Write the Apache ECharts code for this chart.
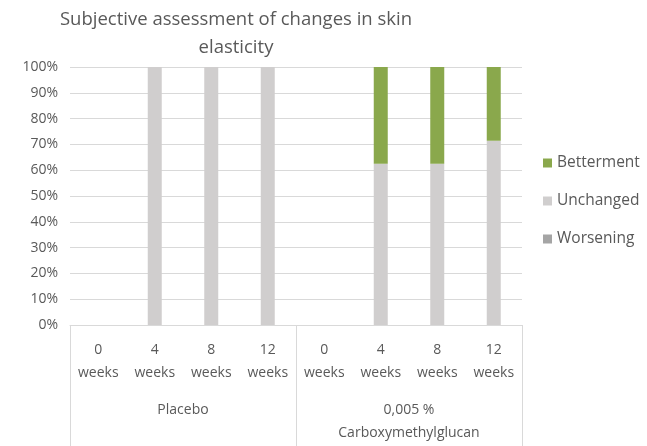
<!DOCTYPE html>
<html lang="en">
<head>
    <meta charset="utf-8">
    <title>Subjective assessment of changes in skin elasticity</title>
    <script src="https://cdn.jsdelivr.net/npm/echarts@6/dist/echarts.min.js"></script>
    <style>
        html, body { margin: 0; padding: 0; background: #fff; }
        #main { width: 647px; height: 446px; }
    </style>
</head>
<body>
    <div id="main"></div>
    <script type="text/javascript">
        // data
        var weeks = ['0\nweeks', '4\nweeks', '8\nweeks', '12\nweeks', '0\nweeks', '4\nweeks', '8\nweeks', '12\nweeks'];
        var groups = ['Placebo', '0,005 %\nCarboxymethylglucan'];
        var worsening = [0, 0, 0, 0, 0, 0, 0, 0];
        var unchanged = [0, 1, 1, 1, 0, 0.625, 0.625, 0.714];
        var betterment = [0, 0, 0, 0, 0, 0.375, 0.375, 0.286];

        var textColor = '#595959';
        var fontName = 'Open Sans';

        var myChart = echarts.init(document.getElementById('main'));
        var option = {
            animation: false,
            title: {
                text: 'Subjective assessment of changes in skin\nelasticity',
                left: 231,
                top: 1,
                textAlign: 'center',
                textStyle: {
                    color: textColor,
                    fontFamily: fontName,
                    fontWeight: 'normal',
                    fontSize: 18.5,
                    lineHeight: 28
                }
            },
            legend: {
                orient: 'vertical',
                left: 538,
                top: 150,
                itemWidth: 9,
                itemHeight: 9,
                itemGap: 22,
                icon: 'rect',
                data: ['Betterment', 'Unchanged', 'Worsening'],
                textStyle: { color: textColor, fontFamily: fontName, fontSize: 15.5 }
            },
            grid: { left: 70, right: 125, top: 67, bottom: 121 },
            xAxis: [
                {
                    type: 'category',
                    data: weeks,
                    axisLine: { lineStyle: { color: '#d9d9d9' } },
                    axisTick: { show: false },
                    axisLabel: {
                        color: textColor, fontFamily: fontName, fontSize: 14,
                        lineHeight: 23, margin: 14, interval: 0
                    }
                },
                {
                    type: 'category',
                    data: groups,
                    position: 'bottom',
                    axisLine: { show: false },
                    axisTick: { show: true, length: 125, lineStyle: { color: '#d9d9d9' } },
                    axisLabel: {
                        color: textColor, fontFamily: fontName, fontSize: 14,
                        lineHeight: 23, margin: 74, interval: 0,
                        verticalAlign: 'top'
                    }
                }
            ],
            yAxis: {
                type: 'value',
                min: 0,
                max: 1,
                interval: 0.1,
                axisLine: { show: false },
                axisTick: { show: false },
                splitLine: { lineStyle: { color: '#d9d9d9' } },
                axisLabel: {
                    color: textColor, fontFamily: fontName, fontSize: 14, margin: 12,
                    formatter: function (v) { return Math.round(v * 100) + '%'; }
                }
            },
            series: [
                {
                    name: 'Worsening', type: 'bar', stack: 'all', barWidth: 14,
                    itemStyle: { color: '#a5a5a5' }, data: worsening
                },
                {
                    name: 'Unchanged', type: 'bar', stack: 'all', barWidth: 14,
                    itemStyle: { color: '#d0cece' }, data: unchanged
                },
                {
                    name: 'Betterment', type: 'bar', stack: 'all', barWidth: 14,
                    itemStyle: { color: '#8aa84c' }, data: betterment
                }
            ]
        };
        myChart.setOption(option);
    </script>
</body>
</html>
